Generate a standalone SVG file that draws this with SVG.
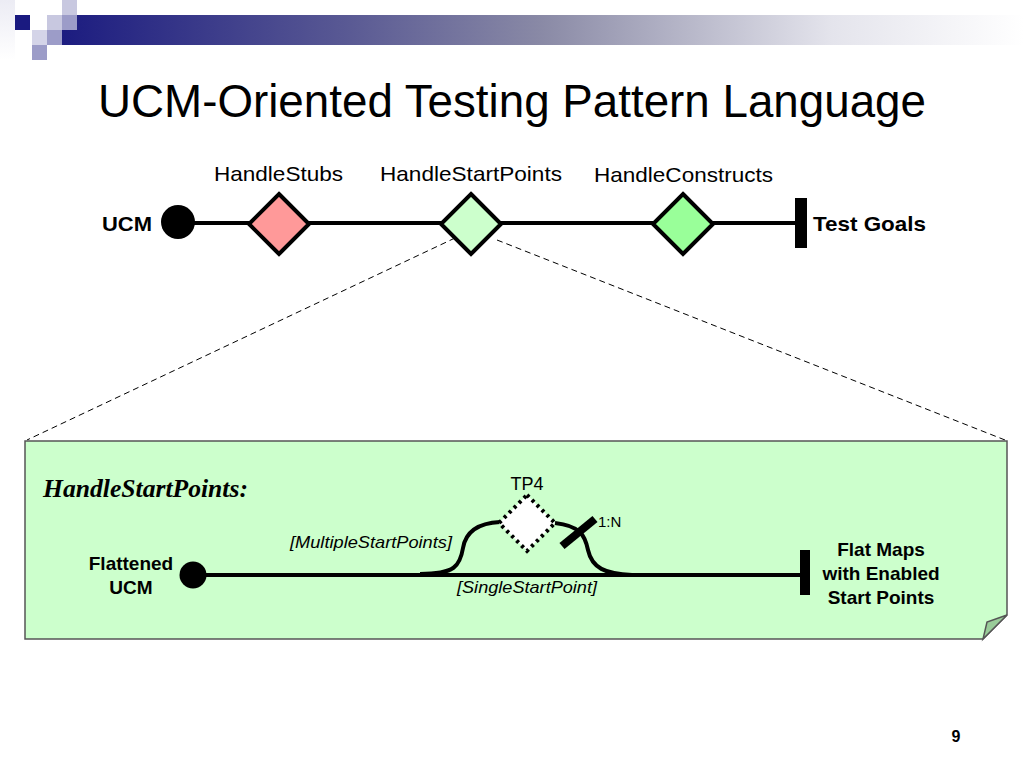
<svg xmlns="http://www.w3.org/2000/svg" width="1024" height="768" viewBox="0 0 1024 768">
<defs>
<linearGradient id="bar" x1="62" y1="0" x2="1024" y2="0" gradientUnits="userSpaceOnUse">
<stop offset="0" stop-color="#1c1c80"/>
<stop offset="0.3" stop-color="#5a5a94"/>
<stop offset="0.5" stop-color="#8a8aa6"/>
<stop offset="0.8" stop-color="#e4e4ec"/>
<stop offset="1" stop-color="#ffffff"/>
</linearGradient>
<linearGradient id="lside" x1="0" y1="0" x2="0" y2="60" gradientUnits="userSpaceOnUse">
<stop offset="0" stop-color="#ececf4"/>
<stop offset="1" stop-color="#ffffff"/>
</linearGradient>
<style>
.lbl{font-family:"Liberation Sans",Arial,sans-serif;fill:#000}
.b{font-weight:bold}
.path{stroke:#000;stroke-width:4;fill:none}
.dash{stroke:#000;stroke-width:1;stroke-dasharray:6,4;fill:none}
.edge{stroke:#000;stroke-width:4;fill:none}
</style>
</defs>
<rect width="1024" height="768" fill="#fff"/>
<g id="header">
<rect x="0" y="0" width="15" height="60" fill="url(#lside)"/>
<rect x="62" y="15" width="962" height="30" fill="url(#bar)"/>
<rect x="15" y="15" width="15" height="15" fill="#1a1a80"/>
<rect x="62" y="0" width="15" height="15" fill="#c8c8e0"/>
<rect x="47" y="15" width="15" height="15" fill="#c8c8e0"/>
<rect x="62" y="15" width="15" height="15" fill="#9c9cc8"/>
<rect x="32" y="30" width="15" height="15" fill="#d4d4e8"/>
<rect x="47" y="30" width="15" height="15" fill="#9c9cc8"/>
<rect x="32" y="45" width="15" height="15" fill="#9c9cc8"/>
</g>
<text class="lbl" x="98" y="117" font-size="46" textLength="828" lengthAdjust="spacingAndGlyphs">UCM-Oriented Testing Pattern Language</text>
<g id="connectors">
<line class="path" x1="177" y1="223" x2="800" y2="223"/>
<line class="dash" x1="455" y1="238" x2="27" y2="440"/>
<line class="dash" x1="497" y1="240" x2="1005" y2="440"/>
</g>
<g id="ucm-start">
<circle cx="178" cy="222" r="17" fill="#000"/>
<text class="lbl b" x="102" y="231" font-size="20" textLength="50" lengthAdjust="spacingAndGlyphs">UCM</text>
</g>
<g id="handle-stubs">
<polygon points="279,194 309,224 279,254 249,224" fill="#ff9999" stroke="#000" stroke-width="4"/>
<text class="lbl" x="214" y="181" font-size="21" textLength="129" lengthAdjust="spacingAndGlyphs">HandleStubs</text>
</g>
<g id="handle-start-points">
<polygon points="471,194 501,224 471,254 441,224" fill="#ccffcc" stroke="#000" stroke-width="4"/>
<text class="lbl" x="380" y="181" font-size="21" textLength="182" lengthAdjust="spacingAndGlyphs">HandleStartPoints</text>
</g>
<g id="handle-constructs">
<polygon points="683,194 713,224 683,254 653,224" fill="#99ff99" stroke="#000" stroke-width="4"/>
<text class="lbl" x="594" y="182" font-size="21" textLength="179" lengthAdjust="spacingAndGlyphs">HandleConstructs</text>
</g>
<g id="test-goals">
<rect x="795" y="198" width="12" height="50" fill="#000"/>
<text class="lbl b" x="813" y="231" font-size="21" textLength="113" lengthAdjust="spacingAndGlyphs">Test Goals</text>
</g>
<g id="detail-box">
<path d="M25,441 H1007 V615 L983,639 H25 Z" fill="#ccffcc" stroke="#555" stroke-width="1.5"/>
<polygon points="983,639 1007,615 987,622" fill="#99cc99" stroke="#555" stroke-width="1.5"/>
<text x="43" y="497" font-family="'Liberation Serif','Times New Roman',serif" font-size="25" font-weight="bold" font-style="italic" fill="#000" textLength="205" lengthAdjust="spacingAndGlyphs">HandleStartPoints:</text>
</g>
<g id="detail-connectors">
<line class="edge" x1="193" y1="575" x2="805" y2="575"/>
<path class="edge" d="M420,574 C455,574 460,566 463,548 C466,530 480,523 500,522"/>
<path class="edge" d="M555,523 C580,526 585,535 588,550 C592,568 605,574 632,575"/>
</g>
<g id="flattened-ucm">
<circle cx="193" cy="575" r="13.5" fill="#000"/>
<text class="lbl b" x="131" y="570" font-size="19" text-anchor="middle">Flattened</text>
<text class="lbl b" x="131" y="594" font-size="19" text-anchor="middle">UCM</text>
</g>
<g id="tp4">
<polygon points="527,495 555,523 527,551 499,523" fill="#fff" stroke="#000" stroke-width="4" stroke-dasharray="3,4"/>
<text class="lbl" x="527" y="490" font-size="18" text-anchor="middle">TP4</text>
</g>
<g id="stub-bar">
<line x1="562" y1="546" x2="595" y2="519" stroke="#000" stroke-width="8"/>
<text class="lbl" x="598" y="527" font-size="15">1:N</text>
</g>
<g id="flat-maps">
<rect x="800" y="550" width="10" height="45" fill="#000"/>
<text class="lbl b" x="881" y="556" font-size="19" text-anchor="middle">Flat Maps</text>
<text class="lbl b" x="881" y="580" font-size="19" text-anchor="middle">with Enabled</text>
<text class="lbl b" x="881" y="604" font-size="19" text-anchor="middle">Start Points</text>
</g>
<text class="lbl" x="290" y="548" font-size="17" font-style="italic" textLength="162" lengthAdjust="spacingAndGlyphs">[MultipleStartPoints]</text>
<text class="lbl" x="457" y="593" font-size="17" font-style="italic" textLength="140" lengthAdjust="spacingAndGlyphs">[SingleStartPoint]</text>
<text class="lbl b" x="956" y="742" font-size="16" text-anchor="middle">9</text>
</svg>
